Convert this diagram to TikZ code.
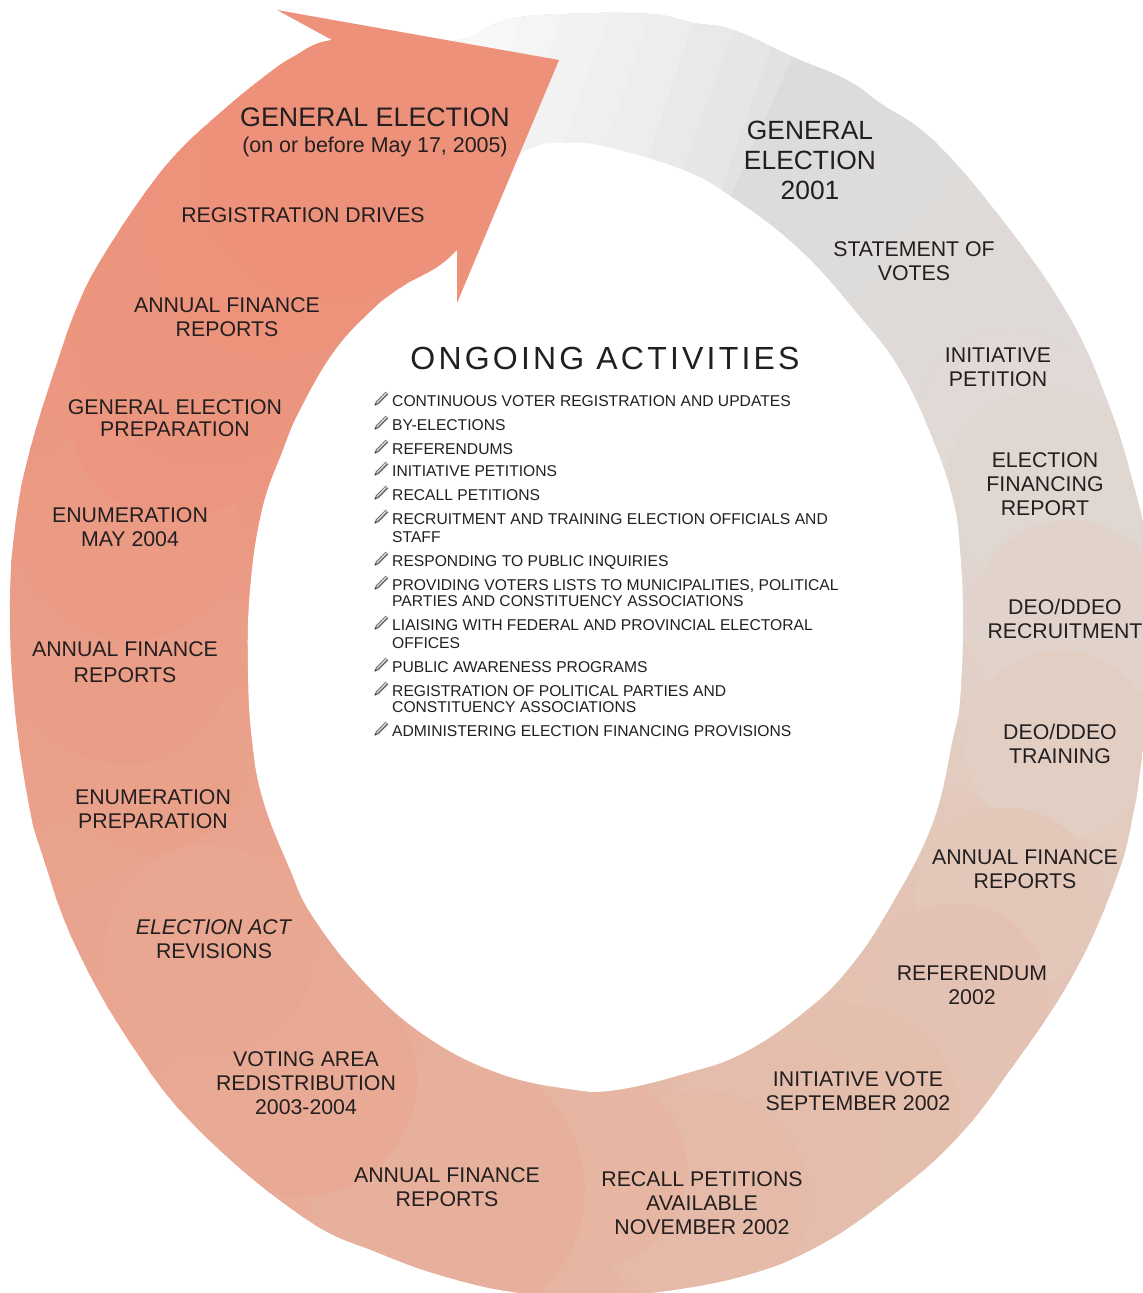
\documentclass[tikz,border=0pt]{standalone}
\usepackage{fontspec}
\setmainfont{Liberation Sans}
\definecolor{ink}{HTML}{231F20}
\definecolor{arrowc}{HTML}{ED917A}
\tikzset{
  lab/.style={font=\fontsize{21.3}{24}\selectfont, align=center, text=ink, inner sep=0pt},
  big/.style={font=\fontsize{26.4}{30}\selectfont, align=center, text=ink, inner sep=0pt},
  item/.style={font=\fontsize{15.65}{18}\selectfont, align=left, text=ink, inner sep=0pt, anchor=north west},
  pencil/.pic={
    \fill[black!60] (-5.8,3.2) -- (-3.2,5.8) -- (6.8,-4.2) -- (4.2,-6.8) -- cycle;
    \fill[gray!35] (-5.0,3.6) -- (-3.8,4.4) -- (5.4,-4.8) -- (4.4,-6.0) -- cycle;
    \fill[black!50] (-5.8,3.2) -- (-3.2,5.8) -- (-7,7) -- cycle;
    \fill[black!85] (-6.2,5.0) -- (-5.0,6.2) -- (-7,7) -- cycle;
  }
}
\begin{document}
\begin{tikzpicture}[x=1pt,y=-1pt]
\useasboundingbox (0,0) rectangle (1143,1293);
\begin{scope}
\clip plot[smooth cycle,tension=.7] coordinates {(567,14)(650,14)(693,23)(733,30)(793,57)(847,80)(880,103)(933,140)(1000,217)(1067,313)(1107,400)(1133,483)(1150,560)(1158,650)(1143,750)(1133,815)(1116,879)(1073,975)(1010,1070)(956,1139)(890,1197)(818,1246)(743,1276)(650,1293)(590,1296)(521,1293)(450,1278)(379,1253)(303,1217)(199,1130)(133,1047)(76,947)(43,857)(28,800)(14,700)(10,600)(16,520)(30,450)(57,363)(80,300)(107,250)(147,190)(180,150)(220,113)(260,80)(293,57)(332,40)(400,40)(460,40)(507,20)};
% base colour ramp by angle
\foreach \a/\b/\ca/\cb in {-92/-60/DEDCDB/DEDCDB,-60/-25/DEDCDB/E0D9D5,-25/0/E0D9D5/E1D2CA,0/25/E1D2CA/E3C9BC,25/45/E3C9BC/E4C2B3,45/70/E4C2B3/E5BDAC,70/90/E5BDAC/E6B6A3,90/120/E6B6A3/E8AB96,120/150/E8AB96/E9A48E,150/180/E9A48E/EA9D87,180/210/EA9D87/EC9680,210/240/EC9680/ED917A,240/271/ED917A/ED917A}{
  \definecolor{rampa}{HTML}{\ca}
  \definecolor{rampb}{HTML}{\cb}
  \foreach \k in {0,1,...,7}{
    \pgfmathsetmacro{\p}{\k*100/8+6.25}
    \pgfmathsetmacro{\u}{\a+(\b-\a)*\k/8}
    \pgfmathsetmacro{\v}{\a+(\b-\a)*(\k+1)/8+0.6}
    \colorlet{tmpc}{rampb!\p!rampa}
    \fill[tmpc] (590,640) -- +(\u:1400) -- +(\v:1400) -- cycle;
  }
}
% stacked circles, clockwise, each over the one before
\foreach \x/\y/\r/\c in {
  980/310/100/DFDAD7, 1010/425/95/E0D9D5, 1045/490/100/E0D7D1, 1070/620/100/E1D3CB,
  1060/745/95/E2CEC3, 1007/900/92/E3C7B9, 956/995/92/E4C2B3, 850/1115/110/E5BFAE,
  770/1150/110/E5BDAC, 700/1200/110/E5BAA8, 590/1170/97/E6B6A3, 447/1190/138/E7B09C,
  300/1080/117/E8AA95, 210/950/105/E9A690, 155/760/90/E9A18A, 125/660/105/EA9D87,
  130/530/110/EB9A84, 175/415/105/EC9680, 210/330/132/EC957E, 273/233/125/ED927B,
  330/170/130/ED917A}{
  \definecolor{tmpc}{HTML}{\c}
  \fill[tmpc] (\x,\y) circle (\r);
}
% grey bands at the top, from right to left
\foreach \xa/\xb/\ya/\yb/\c in {
  950/768/33/293/DCDCDC, 818/702/0/260/E2E2E2, 788/696/0/260/E6E6E6, 744/651/0/260/E9E9E9,
  701/613/0/260/EDEDED, 655/567/0/260/EFEFEF, 615/520/0/260/F2F2F2, 568/477/0/260/F5F5F5,
  527/436/0/260/F8F8F8}{
  \definecolor{tmpc}{HTML}{\c}
  \fill[tmpc] (\xa,\ya) -- (\xb,\yb) -- (450,240) -- (450,\ya) -- cycle;
}
\end{scope}
% hole
\fill[white] plot[smooth cycle,tension=.7] coordinates {(567,143)(607,147)(683,170)(733,198)(800,250)(860,317)(900,370)(933,440)(953,500)(960,550)(963,620)(960,700)(953,738)(933,822)(893,902)(850,967)(803,1013)(743,1053)(687,1073)(616,1090)(569,1089)(498,1073)(427,1037)(365,983)(313,917)(289,867)(263,800)(252,740)(248,670)(250,590)(262,510)(283,450)(300,410)(333,353)(370,312)(400,288)(457,250)(505,170)(535,147)};
% arrow head
\fill[arrowc] (277,10) -- (559,60) -- (457,303) -- (457,250) -- (400,288) -- (300,200) -- (332,40) -- cycle;
% ring labels
\node[font=\fontsize{26.8}{30}\selectfont,text=ink,inner sep=0pt] (ge05) at (375,117) {GENERAL ELECTION};
\node[font=\fontsize{21.4}{24}\selectfont,text=ink,inner sep=0pt] (ge05b) at (375,147) {(on or before May 17, 2005)};
\node[lab] (reg) at (303,215) {REGISTRATION DRIVES};
\node[lab] (af1) at (227,317) {ANNUAL FINANCE\\REPORTS};
\node[lab] (gep) at (175,418) {GENERAL ELECTION\\[-2pt]PREPARATION};
\node[lab] (enu) at (130,527) {ENUMERATION\\MAY 2004};
\node[lab] (af2) at (125,662) {ANNUAL FINANCE\\[2pt]REPORTS};
\node[lab] (enp) at (153,809) {ENUMERATION\\PREPARATION};
\node[lab] (act) at (214,939) {\textit{ELECTION ACT}\\REVISIONS};
\node[lab] (vot) at (306,1083) {VOTING AREA\\REDISTRIBUTION\\2003-2004};
\node[lab] (af3) at (447,1187) {ANNUAL FINANCE\\REPORTS};
\node[lab] (rec) at (702,1203) {RECALL PETITIONS\\AVAILABLE\\NOVEMBER 2002};
\node[lab] (ivo) at (858,1091) {INITIATIVE VOTE\\SEPTEMBER 2002};
\node[lab] (ref) at (972,985) {REFERENDUM\\2002};
\node[lab] (af4) at (1025,869) {ANNUAL FINANCE\\REPORTS};
\node[lab] (trn) at (1060,744) {DEO/DDEO\\TRAINING};
\node[lab] (rcr) at (1065,619) {DEO/DDEO\\RECRUITMENT};
\node[lab] (fin) at (1045,484) {ELECTION\\FINANCING\\REPORT};
\node[lab] (ipe) at (998,367) {INITIATIVE\\PETITION};
\node[lab] (sta) at (914,261) {STATEMENT OF\\VOTES};
\node[big] (ge01) at (810,160) {GENERAL\\ELECTION\\2001};
% ongoing activities
\node[font=\fontsize{32}{36}\selectfont\addfontfeature{LetterSpace=10},text=ink,inner sep=0pt] (ong) at (605,358) {ONGOING ACTIVITIES};
\foreach \n/\y/\t in {
  i1/400/{CONTINUOUS VOTER REGISTRATION AND UPDATES},
  i2/424/{BY-ELECTIONS},
  i3/448/{REFERENDUMS},
  i4/470/{INITIATIVE PETITIONS},
  i5/494/{RECALL PETITIONS},
  i6/518/{RECRUITMENT AND TRAINING ELECTION OFFICIALS AND\\STAFF},
  i7/560/{RESPONDING TO PUBLIC INQUIRIES},
  i8/584/{PROVIDING VOTERS LISTS TO MUNICIPALITIES, POLITICAL\\[-2pt]PARTIES AND CONSTITUENCY ASSOCIATIONS},
  i9/624/{LIAISING WITH FEDERAL AND PROVINCIAL ELECTORAL\\OFFICES},
  i10/666/{PUBLIC AWARENESS PROGRAMS},
  i11/690/{REGISTRATION OF POLITICAL PARTIES AND\\[-2pt]CONSTITUENCY ASSOCIATIONS},
  i12/730/{ADMINISTERING ELECTION FINANCING PROVISIONS}}{
  \node[item] (\n) at (392,\y-4.8) {\t};
  \pic at (381.5,\y-1.5) {pencil};
}
\end{tikzpicture}
\end{document}
